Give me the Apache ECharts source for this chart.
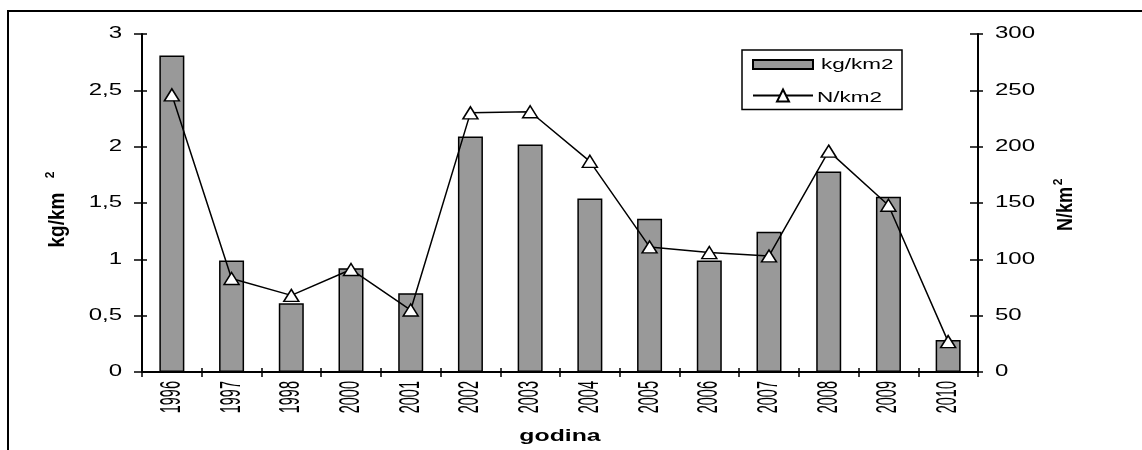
<!DOCTYPE html>
<html>
<head>
<meta charset="utf-8">
<script src="https://cdn.jsdelivr.net/npm/echarts@6/dist/echarts.min.js"></script>
<style>html,body{margin:0;padding:0;background:#fff;}#c{width:1142px;height:450px;}</style>
</head>
<body>
<div id="c"></div>
<script>
var years = ['1996','1997','1998','2000','2001','2002','2003','2004','2005','2006','2007','2008','2009','2010'];
var kgKm2 = [2.81, 0.99, 0.61, 0.92, 0.70, 2.09, 2.02, 1.54, 1.36, 0.99, 1.245, 1.78, 1.555, 0.285];
var nKm2 = [246, 83, 68, 91, 55, 230, 231, 187, 111, 106, 103, 196, 148, 27];
var leftTickValues = [0, 0.5, 1, 1.5, 2, 2.5, 3];
var leftTickLabels = ['0', '0,5', '1', '1,5', '2', '2,5', '3'];
var rightTickValues = [0, 50, 100, 150, 200, 250, 300];
var rightTickLabels = ['0', '50', '100', '150', '200', '250', '300'];
var seriesNames = ['kg/km2', 'N/km2'];
var xTitle = 'godina';

var fam = '"Liberation Sans", Arial, sans-serif';
var SX = 1.5; // horizontal stretch of the original's lettering
var chart = echarts.init(document.getElementById('c'), null, {renderer: 'canvas'});

var tickStyle = {color: '#000', width: 1.5};
chart.setOption({
  animation: false,
  backgroundColor: '#fff',
  textStyle: {fontFamily: fam},
  grid: {left: 142, right: 164, top: 34, bottom: 78, containLabel: false},
  legend: {
    left: 742, top: 50,
    orient: 'vertical', itemGap: 18,
    padding: [7, 88, 7, 10],
    borderColor: '#000', borderWidth: 1.5,
    itemWidth: 60, itemHeight: 15,
    formatter: function () { return ''; },
    textStyle: {fontSize: 1},
    data: [
      {name: seriesNames[0], icon: 'path://M0,0h60v9h-60z'},
      {name: seriesNames[1]}
    ]
  },
  xAxis: [{
    type: 'category', data: years, boundaryGap: true,
    axisLine: {lineStyle: {color: '#000', width: 2}},
    axisTick: {show: true, alignWithLabel: false, length: 5, lineStyle: tickStyle},
    axisLabel: {show: false}
  }, {
    type: 'category', data: years, boundaryGap: true, position: 'bottom',
    axisLine: {show: false},
    axisTick: {show: true, inside: true, alignWithLabel: false, length: 4, lineStyle: tickStyle},
    axisLabel: {show: false}
  }],
  yAxis: [{
    type: 'value', min: leftTickValues[0], max: leftTickValues[leftTickValues.length - 1], interval: 0.5,
    axisLine: {show: true, lineStyle: {color: '#000', width: 2}},
    axisTick: {show: true, length: 8, lineStyle: tickStyle},
    splitLine: {show: false},
    axisLabel: {show: false}
  }, {
    type: 'value', min: rightTickValues[0], max: rightTickValues[rightTickValues.length - 1], interval: 50,
    position: 'right',
    axisLine: {show: true, lineStyle: {color: '#000', width: 2}},
    axisTick: {show: true, length: 5, lineStyle: tickStyle},
    splitLine: {show: false},
    axisLabel: {show: false}
  }, {
    type: 'value', min: 0, max: 3, interval: 0.5, position: 'left',
    axisLine: {show: false},
    axisTick: {show: true, inside: true, length: 5, lineStyle: tickStyle},
    splitLine: {show: false}, axisLabel: {show: false}
  }, {
    type: 'value', min: 0, max: 300, interval: 50, position: 'right',
    axisLine: {show: false},
    axisTick: {show: true, inside: true, length: 8, lineStyle: tickStyle},
    splitLine: {show: false}, axisLabel: {show: false}
  }],
  series: [{
    name: seriesNames[0], type: 'bar', data: kgKm2, yAxisIndex: 0,
    barWidth: 25,
    itemStyle: {color: '#999999', borderColor: '#000', borderWidth: 1.5}
  }, {
    name: seriesNames[1], type: 'line', data: nKm2, yAxisIndex: 1,
    symbol: 'triangle', symbolSize: [15, 12],
    lineStyle: {color: '#000', width: 1.5},
    itemStyle: {color: '#fff', borderColor: '#000', borderWidth: 1.5}
  }]
});

var g = [{
  type: 'rect', shape: {x: 8, y: 11, width: 1200, height: 500},
  style: {fill: 'none', stroke: '#000', lineWidth: 2}, silent: true, z: 0
}];
function txt(o) { g.push(Object.assign({type: 'text', silent: true, z: 10}, o)); }
function st(text, size, align, bold) {
  return {text: text, fontSize: size, fontFamily: fam, fontWeight: bold ? 'bold' : 'normal',
          fill: '#000', textAlign: align, textVerticalAlign: 'middle'};
}
leftTickValues.forEach(function (v, i) {
  var y = chart.convertToPixel({yAxisIndex: 0}, v);
  txt({x: 122, y: y, scaleX: SX, style: st(leftTickLabels[i], 16, 'right')});
});
rightTickValues.forEach(function (v, i) {
  var y = chart.convertToPixel({yAxisIndex: 1}, v);
  txt({x: 995, y: y, scaleX: SX, style: st(rightTickLabels[i], 16, 'left')});
});
years.forEach(function (yr) {
  var x = chart.convertToPixel({xAxisIndex: 0}, yr);
  txt({x: x, y: 381, rotation: Math.PI / 2, scaleX: 1, scaleY: 2.0, style: st(yr, 14.5, 'right')});
});
txt({x: 560, y: 437, scaleX: 1.55, style: st(xTitle, 16, 'center', true)});
txt({x: 58, y: 220, rotation: Math.PI / 2, scaleY: 1.2, style: st('kg/km', 19, 'center', true)});
txt({x: 51, y: 175, rotation: Math.PI / 2, style: st('2', 12, 'center', true)});
txt({x: 1066, y: 209, rotation: Math.PI / 2, scaleY: 1.2, style: st('N/km', 18, 'center', true)});
txt({x: 1059, y: 182, rotation: Math.PI / 2, style: st('2', 12, 'center', true)});
txt({x: 821, y: 65, scaleX: SX, style: st(seriesNames[0], 15, 'left')});
txt({x: 817, y: 98, scaleX: SX, style: st(seriesNames[1], 15, 'left')});
chart.setOption({graphic: g});
</script>
</body>
</html>
